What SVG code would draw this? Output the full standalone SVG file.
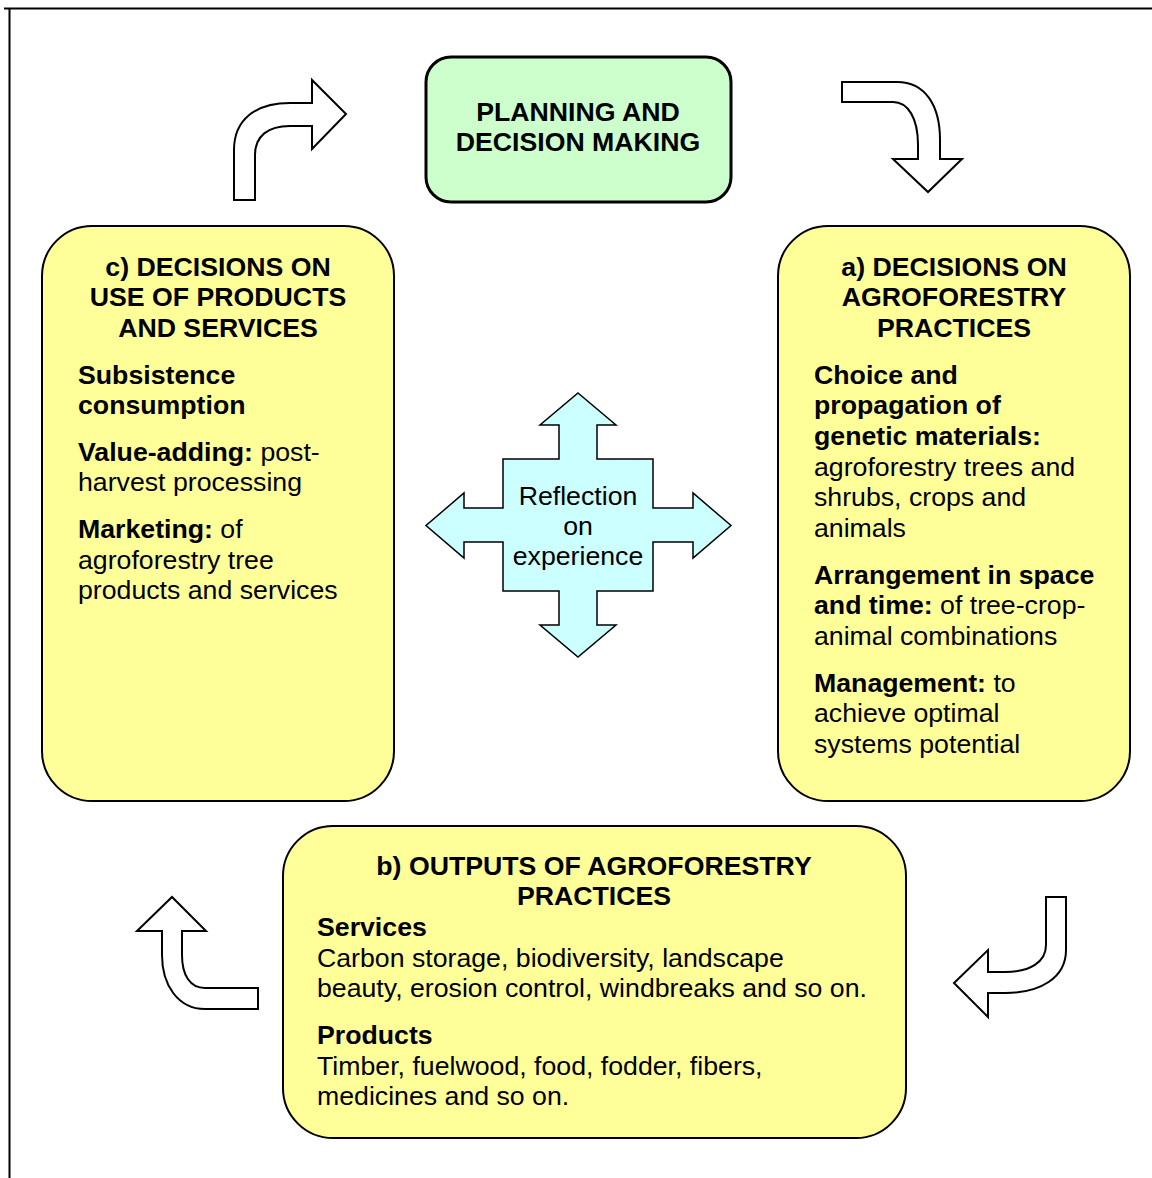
<svg xmlns="http://www.w3.org/2000/svg" width="1152" height="1178" viewBox="0 0 1152 1178">
<style>
text{font-family:"Liberation Sans",Arial,sans-serif;font-size:26.7px;fill:#000}
.b{font-weight:bold}
.c{text-anchor:middle}
.box{fill:#FFFF99;stroke:#000;stroke-width:2}
.arr{fill:#fff;stroke:#000;stroke-width:2;stroke-linejoin:miter}
</style>
<rect width="1152" height="1178" fill="#fff"/>
<path d="M4,8.5 H1152 M9.5,8 V1178" fill="none" stroke="#000" stroke-width="2"/>

<g id="planning">
<rect x="426" y="57" width="305" height="145" rx="25" fill="#CCFFCC" stroke="#000" stroke-width="3"/>
<text class="b c" x="578" y="120.5">PLANNING AND</text>
<text class="b c" x="578" y="150.5">DECISION MAKING</text>
</g>

<g id="node-c">
<rect class="box" x="42" y="226" width="352" height="575" rx="50"/>
<text class="b c" x="218" y="275.5">c) DECISIONS ON</text>
<text class="b c" x="218" y="306">USE OF PRODUCTS</text>
<text class="b c" x="218" y="336.5">AND SERVICES</text>
<text class="b" x="78" y="383.5">Subsistence</text>
<text class="b" x="78" y="414">consumption</text>
<text x="78" y="460.5"><tspan class="b">Value-adding:</tspan> post-</text>
<text x="78" y="491">harvest processing</text>
<text x="78" y="538"><tspan class="b">Marketing:</tspan> of</text>
<text x="78" y="568.5">agroforestry tree</text>
<text x="78" y="599">products and services</text>
</g>

<g id="node-a">
<rect class="box" x="778" y="226" width="352" height="575" rx="50"/>
<text class="b c" x="954" y="275.5">a) DECISIONS ON</text>
<text class="b c" x="954" y="306">AGROFORESTRY</text>
<text class="b c" x="954" y="336.5">PRACTICES</text>
<text class="b" x="814" y="383.5">Choice and</text>
<text class="b" x="814" y="414">propagation of</text>
<text class="b" x="814" y="444.5">genetic materials:</text>
<text x="814" y="475.5">agroforestry trees and</text>
<text x="814" y="506">shrubs, crops and</text>
<text x="814" y="536.5">animals</text>
<text class="b" x="814" y="583.5">Arrangement in space</text>
<text x="814" y="613.5"><tspan class="b">and time:</tspan> of tree-crop-</text>
<text x="814" y="644.5">animal combinations</text>
<text x="814" y="691.5"><tspan class="b">Management:</tspan> to</text>
<text x="814" y="722">achieve optimal</text>
<text x="814" y="752.5">systems potential</text>
</g>

<g id="node-b">
<rect class="box" x="283" y="826" width="623" height="312" rx="50"/>
<text class="b c" x="594" y="874.5">b) OUTPUTS OF AGROFORESTRY</text>
<text class="b c" x="594" y="904.5">PRACTICES</text>
<text class="b" x="317" y="935.5">Services</text>
<text x="317" y="966.5">Carbon storage, biodiversity, landscape</text>
<text x="317" y="997">beauty, erosion control, windbreaks and so on.</text>
<text class="b" x="317" y="1043.5">Products</text>
<text x="317" y="1074.5">Timber, fuelwood, food, fodder, fibers,</text>
<text x="317" y="1105">medicines and so on.</text>
</g>

<g id="reflection">
<path d="M578,393 L616,425 L597,425 L597,459 L653,459 L653,508 L693,508 L693,493 L731,525.5 L693,558 L693,542 L653,542 L653,591 L597,591 L597,625 L616,625 L578,657 L540,625 L559,625 L559,591 L503,591 L503,542 L464,542 L464,558 L426,525.5 L464,493 L464,508 L503,508 L503,459 L559,459 L559,425 L540,425 Z" fill="#CCFFFF" stroke="#000" stroke-width="1.5" stroke-linejoin="miter"/>
<text class="c" x="578" y="505">Reflection</text>
<text class="c" x="578" y="535">on</text>
<text class="c" x="578" y="565">experience</text>
</g>

<g id="connectors">
<path class="arr" d="M234,200 L234,150 C234,120 255,103 290,103 L312,103 L312,80 L346,114 L312,149 L312,126 L290,126 C268,126 255,136 255,155 L255,200 Z"/>
<path class="arr" d="M842,82 L897,82 C925,82 940,105 940,140 L940,159 L962,159 L928,192 L893,159 L918,159 L918,145 C918,118 908,102 893,102 L842,102 Z"/>
<path class="arr" d="M1046,897 L1066,897 L1066,950 C1066,978 1040,993 1005,993 L988,993 L988,1017 L954,983 L988,950 L988,972 L1005,972 C1030,972 1046,962 1046,945 Z"/>
<path class="arr" d="M258,988 L258,1009 L205,1009 C178,1009 162,985 162,955 L162,931 L137,931 L172,897 L206,931 L182,931 L182,955 C182,975 190,988 205,988 Z"/>
</g>
</svg>
